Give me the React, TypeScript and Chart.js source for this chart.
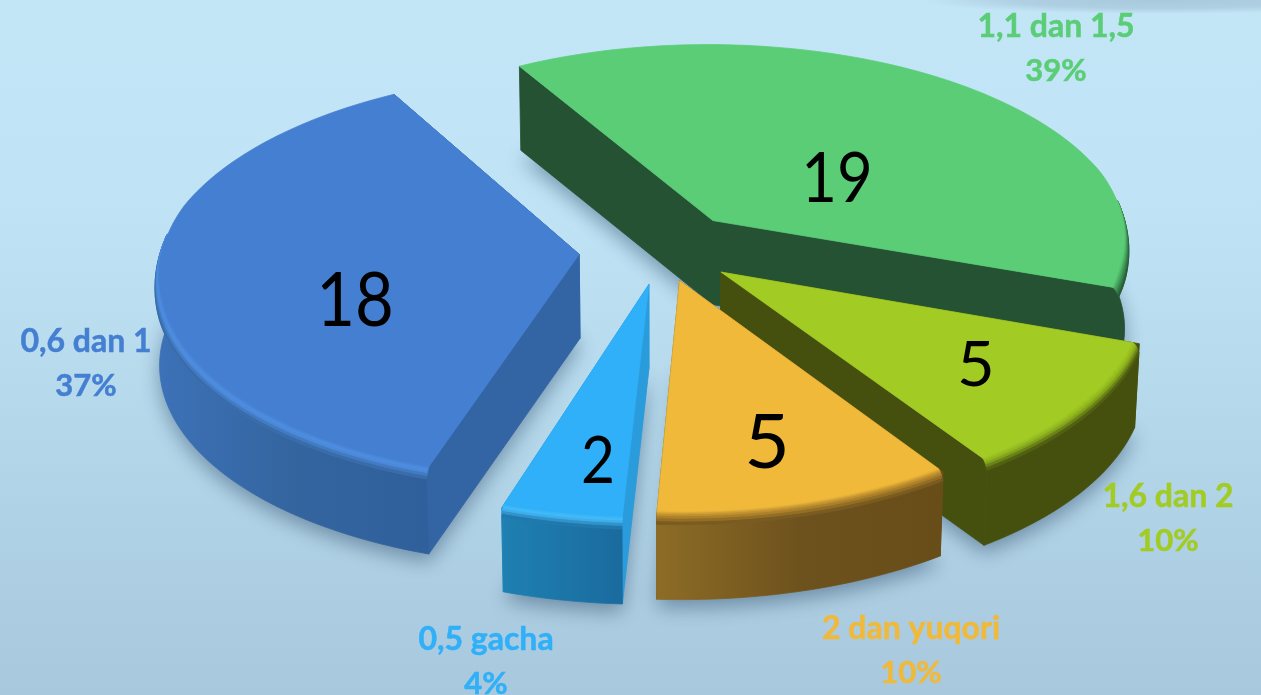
import React, { useEffect, useRef } from "react";
import { Chart, registerables } from "chart.js";

Chart.register(...registerables);

const categories = ["0,5 gacha", "0,6 dan 1", "1,1 dan 1,5", "1,6 dan 2", "2 dan yuqori"];
const counts = [2, 18, 19, 5, 5];
const explode = [170, 197, 192, 175, 155];
const topColors = ["#2fb0f8", "#447fd2", "#5bcd77", "#a2cc24", "#f0b93a"];
const rimColors = ["#46bcfa", "#4f90e4", "#3f9a58", "#8fb31d", "#b98a2c"];
const wallStops = [
  ["#1f80b2", "#1a6b9e"],
  ["#3d72b9", "#34659f", "#30609c"],
  ["#245232", "#245232"],
  ["#45500f", "#45500f"],
  ["#8d6c26", "#6e521d", "#684d19"],
];
const sideColors = ["#2a9cdc", "#3364a4", "#245232", "#45500f", "#6b4f1a"];
const numberFonts = [65, 76, 70, 62, 75];
const numberStretch = [0.9, 0.88, 0.88, 1.05, 1.05];
const numberAnchors = [[598, 462], [355, 301], [837, 179], [976, 366], [767, 444]];
const labelAnchors = [[486, 640], [86, 342], [1056, 27], [1168, 497], [911, 629]];

const ROTATION = 183;
const R = 420, CX = 662, CY = 250, K = 0.48, D = 3800, H = 84;
const BEVEL_R = 7, BEVEL_Z = 9, CONVERGE = 0.00012;

function project(X: number, Y: number, z: number) {
  const s = 1 / (1 - Y / D);
  return [CX + X * s * (1 - z * CONVERGE), CY + K * Y * s + z];
}

function mixHex(a: string, b: string, t: number) {
  const p = (c: string, i: number) => parseInt(c.slice(1 + i * 2, 3 + i * 2), 16);
  const v = [0, 1, 2].map((i) => Math.round(p(a, i) + (p(b, i) - p(a, i)) * t));
  return `rgb(${v[0]},${v[1]},${v[2]})`;
}

const bevelAmount = (a: number) => Math.min(1, Math.max(0, (Math.sin(a) + 0.25) / 0.5));

const pie3d = {
  id: "pie3d",
  beforeDraw(chart: any) {
    const { ctx, width, height } = chart;
    const g = ctx.createLinearGradient(0, 0, 0, height);
    g.addColorStop(0, "#c3e6f7");
    g.addColorStop(0.32, "#bfe3f5");
    g.addColorStop(0.62, "#b4d7ea");
    g.addColorStop(1, "#a8c8dd");
    ctx.fillStyle = g;
    ctx.fillRect(0, 0, width, height);
    ctx.save();
    ctx.translate(1160, 0);
    ctx.scale(1, 14 / 240);
    const b = ctx.createRadialGradient(0, 0, 0, 0, 0, 240);
    b.addColorStop(0, "rgba(150,180,200,0.6)");
    b.addColorStop(0.6, "rgba(150,180,200,0.45)");
    b.addColorStop(1, "rgba(150,180,200,0)");
    ctx.fillStyle = b;
    ctx.fillRect(-240, 0, 480, 240);
    ctx.restore();
  },
  beforeDatasetsDraw(chart: any) {
    const { ctx } = chart;
    const arcs = chart.getDatasetMeta(0).data as any[];
    const slices = arcs.map((arc, i) => {
      const scale = R / arc.outerRadius;
      const mid = (arc.startAngle + arc.endAngle) / 2;
      const e = ((arc.options.offset || 0) / 4) * scale;
      const n = Math.max(8, Math.ceil((arc.endAngle - arc.startAngle) * 40));
      const angles: number[] = [];
      for (let j = 0; j <= n; j++) angles.push(arc.startAngle + ((arc.endAngle - arc.startAngle) * j) / n);
      return {
        i,
        angles,
        ax: Math.cos(mid) * e,
        ay: Math.sin(mid) * e,
        mid,
        color: arc.options.backgroundColor as string,
      };
    });
    const rimPoint = (s: any, a: number, u: number) => {
      const f = bevelAmount(a);
      const r = R - BEVEL_R * f * (1 - u);
      return project(s.ax + r * Math.cos(a), s.ay + r * Math.sin(a), BEVEL_Z * f * u * u);
    };
    const flat = (s: any, a: number, z: number) => project(s.ax + R * Math.cos(a), s.ay + R * Math.sin(a), z);
    const fillPoly = (pts: number[][], style: any, seal = true) => {
      ctx.beginPath();
      pts.forEach((p, j) => (j ? ctx.lineTo(p[0], p[1]) : ctx.moveTo(p[0], p[1])));
      ctx.closePath();
      ctx.fillStyle = style;
      ctx.fill();
      if (seal) {
        ctx.strokeStyle = style;
        ctx.lineWidth = 0.8;
        ctx.stroke();
      }
    };
    const order = [...slices].sort((p, q) => Math.sin(p.mid) - Math.sin(q.mid));

    // soft ground shadows
    ctx.save();
    ctx.shadowColor = "rgba(30,60,90,0.45)";
    ctx.shadowBlur = 20;
    ctx.shadowOffsetY = 8;
    order.forEach((s) => {
      fillPoly([project(s.ax, s.ay, H), ...s.angles.map((a: number) => flat(s, a, H))], "#7f9fb5", false);
    });
    ctx.restore();

    order.forEach((s) => {
      const apex0 = project(s.ax, s.ay, 0);
      const apexH = project(s.ax, s.ay, H);
      const first = s.angles[0];
      const last = s.angles[s.angles.length - 1];
      // radial walls
      [first, last].forEach((a: number) => {
        fillPoly([apex0, flat(s, a, 0), flat(s, a, H), apexH], sideColors[s.i]);
      });
      // rounded outer wall, only where it faces the viewer
      const visible = s.angles.filter((a: number) => Math.sin(a) > -0.12);
      const stops = wallStops[s.i];
      if (visible.length > 1) {
        const top = visible.map((a: number) => flat(s, a, BEVEL_Z * bevelAmount(a)));
        const bottom = visible.map((a: number) => flat(s, a, H));
        const xs = top.map((p: number[]) => p[0]);
        const g = ctx.createLinearGradient(Math.min(...xs), 0, Math.max(...xs), 0);
        stops.forEach((c, j) => g.addColorStop(j / (stops.length - 1), c));
        fillPoly([...top, ...bottom.reverse()], g);
      }
      // bevel strips from the top face to the wall
      const wallMid = stops[Math.floor(stops.length / 2)];
      const steps = 6;
      for (let t = steps - 1; t >= 0; t--) {
        const u0 = t / steps, u1 = (t + 1) / steps;
        const a = visible.map((v: number) => rimPoint(s, v, u0));
        const b = visible.map((v: number) => rimPoint(s, v, u1));
        const u = (u0 + u1) / 2;
        const col = u < 0.5 ? mixHex(s.color, rimColors[s.i], u * 2) : mixHex(rimColors[s.i], wallMid, (u - 0.5) * 2);
        fillPoly([...a, ...b.reverse()], col);
      }
      // top face
      fillPoly([apex0, ...s.angles.map((a: number) => rimPoint(s, a, 0))], s.color);
    });

    // value numbers and outer labels
    const total = counts.reduce((p, c) => p + c, 0);
    ctx.save();
    ctx.textAlign = "center";
    ctx.textBaseline = "middle";
    slices.forEach((s) => {
      const v = chart.data.datasets[0].data[s.i];
      const [nx, ny] = numberAnchors[s.i];
      ctx.save();
      ctx.translate(nx, ny);
      ctx.scale(numberStretch[s.i], 1);
      ctx.fillStyle = "#000000";
      ctx.font = `${numberFonts[s.i]}px Lato`;
      ctx.fillText(String(v), 0, 0);
      ctx.restore();
      const [lx, ly] = labelAnchors[s.i];
      ctx.fillStyle = s.color;
      ctx.strokeStyle = s.color;
      ctx.lineWidth = 0.5;
      ctx.font = "bold 32px Lato";
      ctx.fillText(chart.data.labels[s.i], lx, ly);
      ctx.strokeText(chart.data.labels[s.i], lx, ly);
      ctx.font = "bold 31px Lato";
      const pct = `${Math.round((v / total) * 100)}%`;
      ctx.fillText(pct, lx, ly + 44);
      ctx.strokeText(pct, lx, ly + 44);
    });
    ctx.restore();
    return false;
  },
};

export default function App() {
  const ref = useRef<HTMLCanvasElement>(null);
  useEffect(() => {
    const chart = new Chart(ref.current as HTMLCanvasElement, {
      type: "pie",
      data: {
        labels: categories,
        datasets: [
          {
            data: counts,
            backgroundColor: topColors,
            offset: explode,
            borderWidth: 0,
          },
        ],
      },
      options: {
        responsive: false,
        animation: false,
        rotation: ROTATION,
        events: [],
        layout: { padding: 0 },
        plugins: { legend: { display: false }, tooltip: { enabled: false } },
      },
      plugins: [pie3d],
    } as any);
    return () => chart.destroy();
  }, []);
  return (
    <div style={{ position: "fixed", left: 0, top: 0, width: 1261, height: 695 }}>
      <canvas ref={ref} width={1261} height={695} style={{ display: "block" }} />
    </div>
  );
}
